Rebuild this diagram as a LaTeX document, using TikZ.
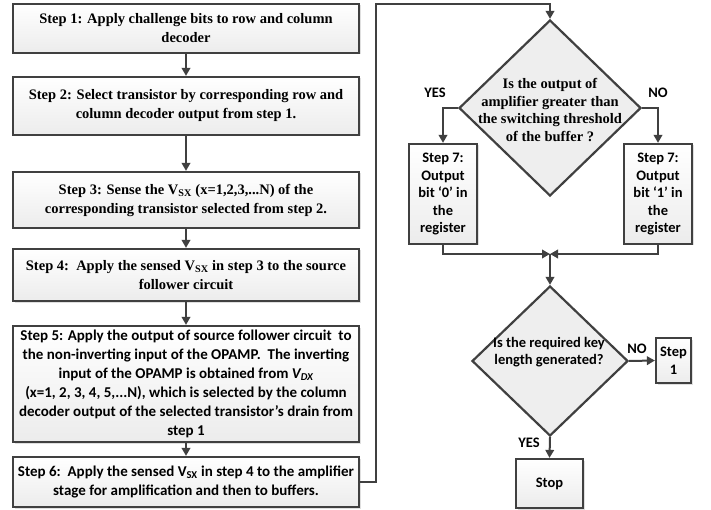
\documentclass[tikz,border=0pt]{standalone}
\usepackage{fontspec}
\setmainfont{Liberation Serif}
\newfontfamily\calibri{Carlito}
\usetikzlibrary{arrows.meta, shapes.geometric, positioning, shadows}
\definecolor{edgegray}{HTML}{404040}
\newcommand{\serifsize}{\fontsize{14.5}{19}\selectfont\bfseries}
\newcommand{\calsize}{\calibri\fontsize{14.5}{17.5}\selectfont\bfseries}
\newcommand{\callarge}{\calibri\fontsize{15}{19}\selectfont\bfseries}
\tikzset{
  stepbox/.style={rectangle, draw=edgegray, line width=2.2pt, top color=white, bottom color=gray!15,
    align=center, inner sep=1pt, drop shadow={shadow xshift=1.5pt, shadow yshift=-1.5pt, opacity=0.25}},
  decision/.style={diamond, draw=edgegray, line width=2.2pt, fill=gray!13, inner sep=0pt},
  flow/.style={draw=edgegray, line width=2pt, -{Triangle[length=8pt,width=8.5pt]}},
  answer/.style={font=\calsize}
}
\begin{document}
\begin{tikzpicture}[x=1pt,y=-1pt]
\useasboundingbox (0,0) rectangle (711,510);
% Left column: steps 1 to 6
\node[stepbox, minimum width=346pt, minimum height=49pt, font=\serifsize] (step1) at (186,28.5)
  {Step 1: Apply challenge bits to row and column\\decoder};
\node[stepbox, minimum width=346pt, minimum height=58pt, font=\serifsize] (step2) at (186,106)
  {Step 2: Select transistor by corresponding row and\\column decoder output from step 1.};
\node[stepbox, minimum width=346pt, minimum height=56pt, font=\serifsize] (step3) at (186,200)
  {Step 3: Sense the V\textsubscript{SX} (x=1,2,3,...N) of the\\corresponding transistor selected from step 2.};
\node[stepbox, minimum width=346pt, minimum height=52pt, font=\serifsize] (step4) at (186,275)
  {Step 4:\ \ Apply the sensed V\textsubscript{SX} in step 3 to the source\\follower circuit};
\node[stepbox, minimum width=346pt, minimum height=116pt, font=\callarge] (step5) at (186,384)
  {Step 5: Apply the output of source follower circuit\ \ to\\
   the non-inverting input of the OPAMP.\ \ The inverting\\
   input of the OPAMP is obtained from \textit{V\textsubscript{DX}}\\
   (x=1, 2, 3, 4, 5,...N), which is selected by the column\\
   decoder output of the selected transistor’s drain from\\
   step 1};
\node[stepbox, minimum width=346pt, minimum height=50pt, font=\callarge] (step6) at (186,482)
  {Step 6:\ \ Apply the sensed V\textsubscript{SX} in step 4 to the amplifier\\stage for amplification and then to buffers.};
%
\draw[flow] (step1) -- (step2);
\draw[flow] (step2) -- (step3);
\draw[flow] (step3) -- (step4);
\draw[flow] (step4) -- (step5);
\draw[flow] (step5) -- (step6);
%
% Right column: threshold test
\node[decision, minimum width=182pt, minimum height=176pt] (test) at (550,108) {};
\node[font=\fontsize{14.5}{17.5}\selectfont\bfseries, align=center] (testtext) at (550,110)
  {Is the output of\\amplifier greater than\\the switching threshold\\of the buffer ?};
\coordinate (turn) at (376,4);
\draw[flow] (step6.east) -| (turn) -| (test.north);
%
\node[stepbox, minimum width=68pt, minimum height=100pt, font=\calsize] (bitzero) at (443,194)
  {Step 7:\\Output\\bit ‘0’ in\\the\\register};
\node[stepbox, minimum width=68pt, minimum height=100pt, font=\calsize] (bitone) at (658,194)
  {Step 7:\\Output\\bit ‘1’ in\\the\\register};
\draw[flow] (test.west) -| (bitzero.north);
\draw[flow] (test.east) -| (bitone.north);
\node[answer] (yes1) at (435,93) {YES};
\node[answer] (no1) at (658,93) {NO};
%
% Key length test
\coordinate (merge) at (550,254);
\draw[flow] (bitzero.south) |- (merge);
\draw[flow] (bitone.south) |- (merge);
\node[decision, minimum width=156pt, minimum height=150pt] (keytest) at (550,361) {};
\node[font=\calsize, align=center] (keytext) at (549,352) {Is the required key\\length generated?};
\draw[flow] (merge) -- (keytest.north);
%
\node[stepbox, minimum width=35pt, minimum height=45pt, font=\calsize] (back) at (673.5,360.5) {Step\\1};
\draw[flow] (keytest.east) -- (back.west);
\node[answer] (no2) at (637,349) {NO};
%
\node[stepbox, minimum width=67pt, minimum height=49pt, font=\calsize] (stop) at (549.5,483.5) {Stop};
\draw[flow] (keytest.south) -- (stop.north);
\node[answer] (yes2) at (529,443) {YES};
\end{tikzpicture}
\end{document}
